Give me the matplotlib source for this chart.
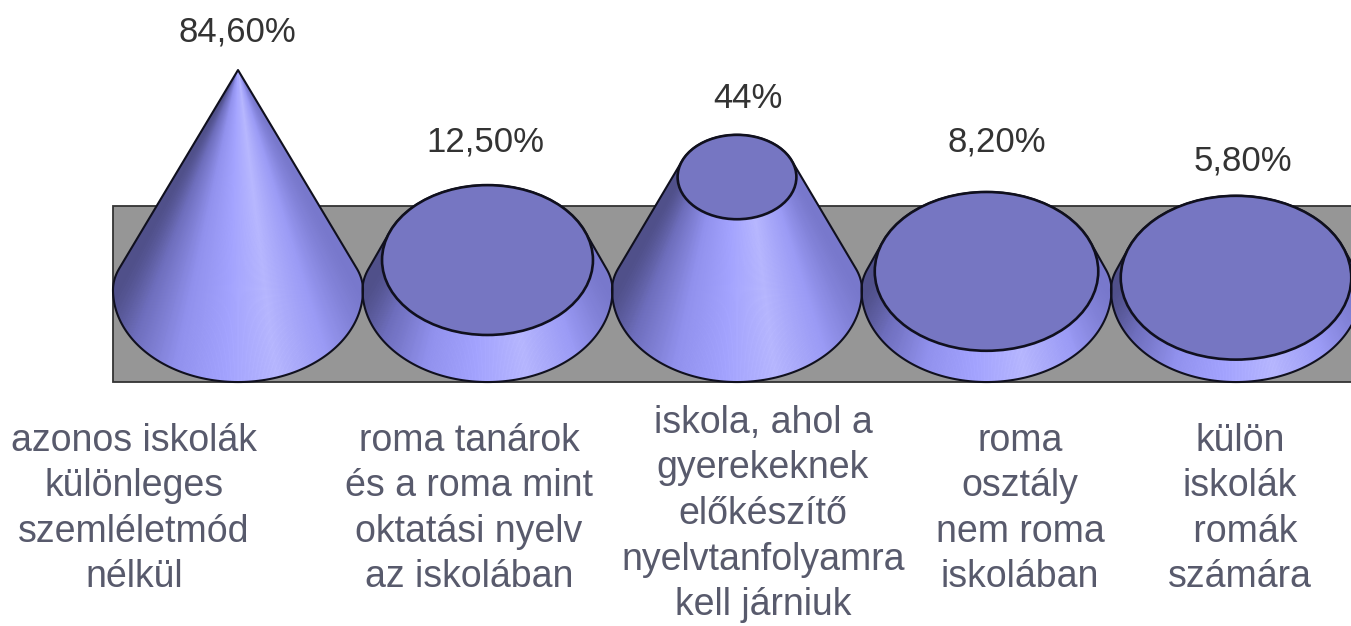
"""
Truncated 3D cones on a grey wall, drawn from the share of each school type.

Output: out.png
"""

import numpy as np
import matplotlib
matplotlib.use("Agg")
import matplotlib.pyplot as plt
from matplotlib.collections import PolyCollection
from matplotlib.colors import LinearSegmentedColormap
from matplotlib.patches import Ellipse, Polygon, Rectangle

# -- Data --------------------------------------------------------------------

values = [84.6, 12.5, 44.0, 8.2, 5.8]
value_labels = ["84,60%", "12,50%", "44%", "8,20%", "5,80%"]
categories = [
    "azonos iskolák\nkülönleges\nszemléletmód\nnélkül",
    "roma tanárok\nés a roma mint\noktatási nyelv\naz iskolában",
    "iskola, ahol a\ngyerekeknek\nelőkészítő\nnyelvtanfolyamra\nkell járniuk",
    "roma\nosztály\nnem roma\niskolában",
    "külön\niskolák\n romák\nszámára",
]

# -- Shared constants --------------------------------------------------------

W, H = 1351, 626
PX_X = 249.5    # pixels per category
PX_Y = 2.6      # pixels per percent
X0, Y0 = 238, 290   # pixel position of the first base centre

RX = 0.501      # base radius in category units
RY = 35.4       # base radius in value units
BACK = 0.75     # back half of the base ellipse is shorter (perspective)
SQUASH = 0.965  # top ellipses look a little flatter than the base
LIFT = 1.15     # perspective shift of the top ellipse, value units
WALL_TOP = 32.3

VALUE_POS = [(237, 32), (485, 142), (748, 98), (997, 142), (1243, 161)]
LABEL_POS = [(134, 509), (469, 509), (763, 514), (1020, 509), (1240, 509)]

TOP_COLOR = "#7676C2"
WALL_COLOR = "#969696"
EDGE = "#10101E"
FONT = "Liberation Sans"

shade = LinearSegmentedColormap.from_list("cone", [
    (0.00, "#50508A"),
    (0.08, "#6E6EBC"),
    (0.25, "#9292EE"),
    (0.45, "#A4A4FF"),
    (0.65, "#B8B8FF"),
    (0.85, "#9C9CF6"),
    (1.00, "#7878CC"),
])


# -- Helpers -----------------------------------------------------------------

def hull(points):
    """Convex hull of an Nx2 array (monotone chain)."""
    pts = sorted(map(tuple, points))

    def half(seq):
        out = []
        for p in seq:
            while len(out) > 1:
                (ax_, ay_), (bx_, by_) = out[-2], out[-1]
                if (bx_ - ax_) * (p[1] - ay_) - (by_ - ay_) * (p[0] - ax_) > 0:
                    break
                out.pop()
            out.append(p)
        return out[:-1]

    return np.array(half(pts) + half(pts[::-1]))


def base_y(a):
    s = np.sin(a)
    return RY * s * (BACK if s > 0 else 1)


def draw_cone(ax, cx, value, top_value):
    frac = 1 - value / top_value
    rx_top = RX * frac * 0.99
    ry_top = RY * frac * 0.99 * SQUASH
    y_top = value - LIFT * frac

    # where the side lines touch the ellipses
    sin_t = min(1.0, (1 - frac) / (y_top / RY))
    t = np.arcsin(sin_t) + np.radians(3)
    angles = np.linspace(-np.pi - t, t, 361)
    angles = angles[np.argsort(-np.sin(angles), kind="stable")]
    step = (2 * t + np.pi) / 360

    quads, colors = [], []
    for a in angles:
        a2 = a + step
        quads.append([
            (cx + RX * np.cos(a), base_y(a)),
            (cx + RX * np.cos(a2), base_y(a2)),
            (cx + rx_top * np.cos(a2), y_top + ry_top * np.sin(a2)),
            (cx + rx_top * np.cos(a), y_top + ry_top * np.sin(a)),
        ])
        u = (np.cos(a) + 1) / 2 if np.sin(a) <= 0 else float(np.cos(a) > 0)
        colors.append(shade(u))

    theta = np.linspace(0, 2 * np.pi, 720, endpoint=False)
    base = np.c_[cx + RX * np.cos(theta), [base_y(a) for a in theta]]
    top = np.c_[cx + rx_top * np.cos(theta), y_top + ry_top * np.sin(theta)]
    outline = hull(np.r_[base, top])

    ax.add_patch(Polygon(outline, closed=True, facecolor="#8C8CEE", edgecolor="none", zorder=2))
    mesh = PolyCollection(quads, facecolors=colors, edgecolors=colors, linewidths=0.4, zorder=3)
    ax.add_collection(mesh)
    mesh.set_clip_path(Polygon(outline, closed=True, transform=ax.transData))

    if frac > 0:
        ax.add_patch(Ellipse((cx, y_top), 2 * rx_top, 2 * ry_top, facecolor=TOP_COLOR,
                             edgecolor=EDGE, linewidth=1.9, zorder=5))
    ax.add_patch(Polygon(outline, closed=True, fill=False, edgecolor=EDGE,
                         linewidth=1.5, joinstyle="round", zorder=4))


# -- The chart ---------------------------------------------------------------

fig = plt.figure(figsize=(W / 100, H / 100), dpi=100, facecolor="white")
ax = fig.add_axes([0, 0, 1, 1])
ax.set_xlim(-X0 / PX_X, (W - X0) / PX_X)
ax.set_ylim(-(H - Y0) / PX_Y, Y0 / PX_Y)
ax.axis("off")

ax.add_patch(Rectangle((-RX, -RY), 6, RY + WALL_TOP, facecolor=WALL_COLOR,
                       edgecolor="#333333", linewidth=1.3, zorder=1))

positions = np.arange(len(values))
for pos, val in zip(positions, values):
    draw_cone(ax, pos, val, max(values))

for text, (x, y) in zip(value_labels, VALUE_POS):
    fig.text(x / W, 1 - y / H, text, ha="center", va="center", fontsize=25,
             color="#333333", family=FONT)

for text, (x, y) in zip(categories, LABEL_POS):
    fig.text(x / W, 1 - y / H, text, ha="center", va="center", fontsize=27,
             color="#585A6C", family=FONT, linespacing=1.34)

fig.savefig("out.png", dpi=100, facecolor="white")
